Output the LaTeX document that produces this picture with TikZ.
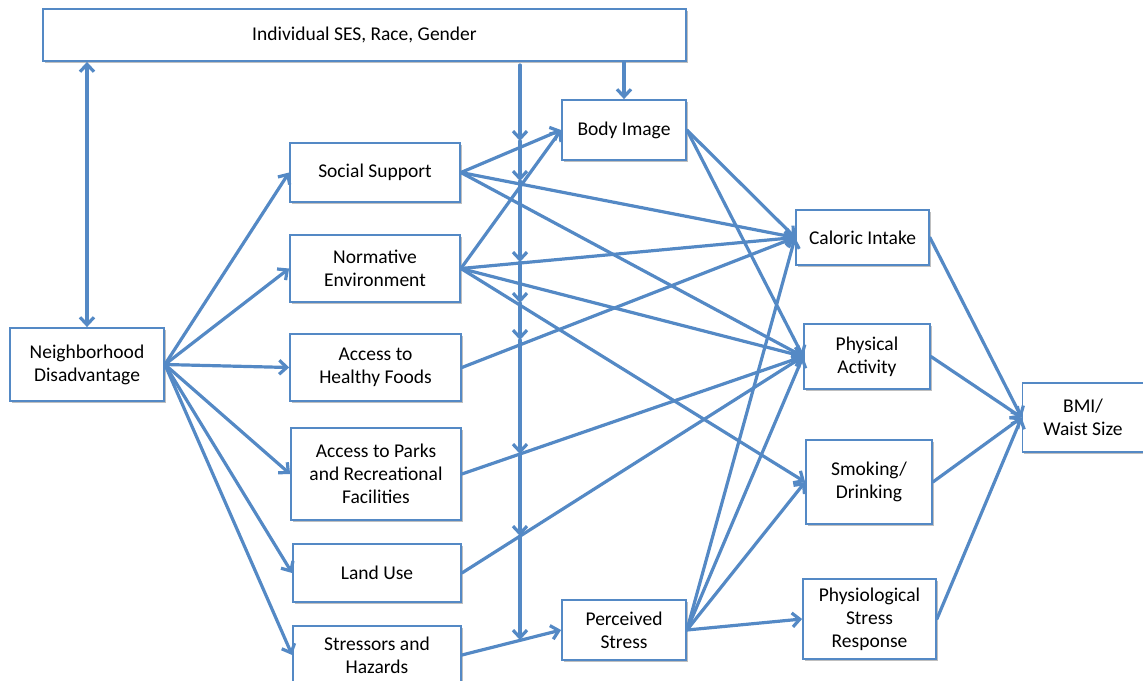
\documentclass[tikz,border=0pt]{standalone}
\usepackage{fontspec}
\setmainfont{Carlito}
\usetikzlibrary{arrows.meta,shadows}
\definecolor{linkblue}{RGB}{84,137,197}

\begin{document}
\begin{tikzpicture}[x=1pt, y=-1pt, line cap=round,
    box/.style={draw=linkblue, line width=1.8pt, fill=white, align=center,
        inner sep=0pt, font=\fontsize{19.5}{23}\selectfont,
        execute at begin node={\vspace*{5pt}},
        drop shadow={shadow xshift=1.5pt, shadow yshift=-1.5pt,
            opacity=0.25, fill=black}},
    barb/.tip={Straight Barb[length=7.5pt, width=14pt]},
    link/.style={draw=linkblue, line width=3.2pt, -barb},
    twoway/.style={draw=linkblue, line width=3.2pt, barb-barb}]

    % picture frame
    \clip (0,0) rectangle (1143,680);

    % top box
    \node[box, minimum width=643pt, minimum height=52pt] (ses) at (364.5,35)
        {Individual SES, Race, Gender};

    % left box
    \node[box, minimum width=154pt, minimum height=73pt] (nd) at (87,364.5)
        {Neighborhood\\Disadvantage};

    % neighborhood features
    \node[box, minimum width=170pt, minimum height=59pt] (social) at (375,172.5)
        {Social Support};
    \node[box, minimum width=170pt, minimum height=67pt] (norm) at (375,268.5)
        {Normative\\Environment};
    \node[box, minimum width=171pt, minimum height=67pt] (food) at (375.5,367.5)
        {Access to\\Healthy Foods};
    \node[box, minimum width=170pt, minimum height=92pt] (parks) at (376,474)
        {Access to Parks\\and Recreational\\Facilities};
    \node[box, minimum width=168pt, minimum height=58pt] (land) at (377,573)
        {Land Use};
    \node[box, minimum width=168pt, minimum height=58pt] (stress) at (377,655)
        {Stressors and\\Hazards};

    % mediators
    \node[box, minimum width=124pt, minimum height=60pt] (body) at (624,130)
        {Body Image};
    \node[box, minimum width=124pt, minimum height=60pt] (perc) at (624,630)
        {Perceived\\Stress};

    % behaviours
    \node[box, minimum width=133pt, minimum height=55pt] (cal) at (862.5,237.5)
        {Caloric Intake};
    \node[box, minimum width=126pt, minimum height=65pt] (phys) at (867,356.5)
        {Physical\\Activity};
    \node[box, minimum width=126pt, minimum height=84pt] (smok) at (869,482)
        {Smoking/\\Drinking};
    \node[box, minimum width=133pt, minimum height=80pt] (psr) at (869.5,619)
        {Physiological\\Stress\\Response};

    % outcome
    \node[box, minimum width=121pt, minimum height=69pt] (bmi) at (1083,417.5)
        {BMI/\\Waist Size};

    % individual level links
    \draw[twoway] (ses.south -| nd.north) -- (nd.north);
    \draw[link] (ses.south -| body.north) -- (body.north);

    % neighborhood disadvantage to its features
    \foreach \t in {social, norm, food, parks, land, stress}
        \draw[link] (nd.east) -- (\t.west);

    % into body image and perceived stress
    \draw[link] (social.east) -- (body.west);
    \draw[link] (norm.east) -- (body.west);
    \draw[link] (stress.east) -- (perc.west);

    % into caloric intake
    \foreach \s in {social, norm, food, body, perc}
        \draw[link] (\s.east) -- (cal.west);

    % into physical activity
    \foreach \s in {social, norm, parks, land, body, perc}
        \draw[link] (\s.east) -- (phys.west);

    % into smoking and stress response
    \draw[link] (norm.east) -- (smok.west);
    \draw[link] (perc.east) -- (smok.west);
    \draw[link] (perc.east) -- (psr.west);

    % into bmi
    \foreach \s in {cal, phys, smok, psr}
        \draw[link] (\s.east) -- (bmi.west);

    % moderating line from the top box
    \coordinate (modtop) at (520,65);
    \foreach \y [count=\i] in {141,181,262,303,340,454,536,640}
        \coordinate (m\i) at (520,\y);
    \draw[link] (modtop) -- (m1);
    \foreach \i [remember=\i as \j (initially 1)] in {2,...,8}
        \draw[link] (m\j) -- (m\i);

\end{tikzpicture}
\end{document}
